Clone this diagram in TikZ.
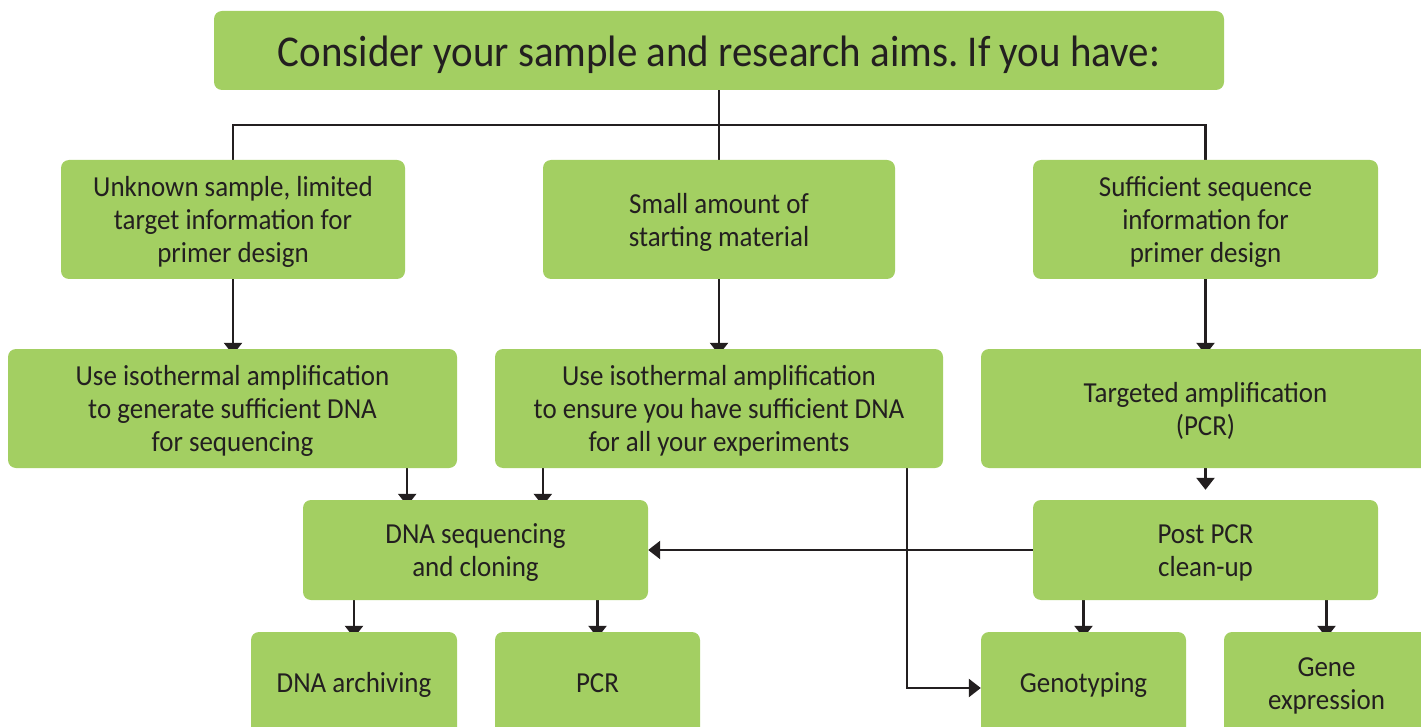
\documentclass[tikz,border=0pt]{standalone}
\usepackage{fontspec}
\setmainfont{Carlito}
\newfontfamily\boxfont[FakeStretch=0.93]{Carlito}
\usetikzlibrary{arrows.meta,calc}
\definecolor{boxgreen}{HTML}{A3CF62}
\definecolor{ink}{HTML}{231F20}
\pgfdeclarelayer{bg}
\pgfsetlayers{bg,main}
\frenchspacing
\newcommand\boxtext[2][-3.5pt]{\raisebox{#1}[\height][\depth]{\begin{tabular}{@{}c@{}}#2\end{tabular}}}
\begin{document}
\begin{tikzpicture}[x=1pt,y=-1pt,
  gbox/.style={fill=boxgreen, rounded corners=8pt, text=ink, inner sep=0pt,
    font=\boxfont\fontsize{29}{33}\selectfont},
  conn/.style={draw=ink, line width=2.5pt},
  arr/.style={conn, -{Triangle[width=18pt,length=12pt]}}]
\useasboundingbox (0,0) rectangle (1421,727);
% top
\node[gbox, minimum width=1010pt, minimum height=79pt, font=\boxfont\fontsize{44}{48}\selectfont] (top) at (719,50.5) {\boxtext[-6pt]{Consider your sample and research aims. If you have:}};
% row 1
\node[gbox, minimum width=344pt, minimum height=119pt] (r1l) at (233,219.5) {\boxtext{Unknown sample, limited\\target information for\\primer design}};
\node[gbox, minimum width=352pt, minimum height=119pt] (r1m) at (719,219.5) {\boxtext{Small amount of\\starting material}};
\node[gbox, minimum width=345pt, minimum height=119pt] (r1r) at (1205.5,219.5) {\boxtext{Sufficient sequence\\information for\\primer design}};
% row 2
\node[gbox, minimum width=449pt, minimum height=119pt] (r2l) at (232.5,408.5) {\boxtext{Use isothermal amplification\\to generate sufficient DNA\\for sequencing}};
\node[gbox, minimum width=448pt, minimum height=119pt] (r2m) at (719,408.5) {\boxtext{Use isothermal amplification\\to ensure you have sufficient DNA\\for all your experiments}};
\node[gbox, minimum width=449pt, minimum height=119pt] (r2r) at (1205.5,408.5) {\boxtext{Targeted amplification\\(PCR)}};
% row 3
\node[gbox, minimum width=345pt, minimum height=100pt] (dna) at (475.5,550) {\boxtext{DNA sequencing\\and cloning}};
\node[gbox, minimum width=345pt, minimum height=100pt] (post) at (1205.5,550) {\boxtext{Post PCR\\clean-up}};
% row 4
\node[gbox, minimum width=206pt, minimum height=112pt] (arch) at (354,688) {\boxtext[2pt]{DNA archiving}};
\node[gbox, minimum width=205pt, minimum height=112pt] (pcr) at (597.5,688) {\boxtext[2pt]{PCR}};
\node[gbox, minimum width=205pt, minimum height=112pt] (geno) at (1083.5,688) {\boxtext[2pt]{Genotyping}};
\node[gbox, minimum width=205pt, minimum height=112pt] (gene) at (1326.5,688) {\boxtext[2pt]{Gene\\expression}};
% connectors
\coordinate (bus) at (719,125);
\coordinate (a1) at ($(r2l.south east)+(-50,0)$);
\coordinate (a2) at ($(r2m.south west)+(48,0)$);
\coordinate (a3) at ($(r2m.south east)+(-36,0)$);
\begin{pgfonlayer}{bg}
\draw[conn] (top.south) -- (r1m.north);
\draw[conn] (r1l.north) -- (r1l.north |- bus) -- (r1r.north |- bus) -- (r1r.north);
\draw[arr] (r1l.south) -- ([yshift=-6pt]r1l.south |- r2l.north);
\draw[arr] (r1m.south) -- ([yshift=-6pt]r2m.north);
\draw[arr] (r1r.south) -- ([yshift=-6pt]r2r.north);
\draw[arr] (a1) -- ([yshift=-6pt]a1 |- dna.north);
\draw[arr] (a2) -- ([yshift=-6pt]a2 |- dna.north);
\draw[arr] (a3) -- (a3 |- geno.west) -- (geno.west);
\draw[arr] (r2r.south) -- ([yshift=10pt]post.north);
\draw[arr] (post.west) -- (dna.east);
\draw[arr] (dna.south -| arch.north) -- ([yshift=-6pt]arch.north);
\draw[arr] (dna.south -| pcr.north) -- ([yshift=-6pt]pcr.north);
\draw[arr] (post.south -| geno.north) -- ([yshift=-6pt]geno.north);
\draw[arr] (post.south -| gene.north) -- ([yshift=-6pt]gene.north);
\end{pgfonlayer}
\end{tikzpicture}
\end{document}
